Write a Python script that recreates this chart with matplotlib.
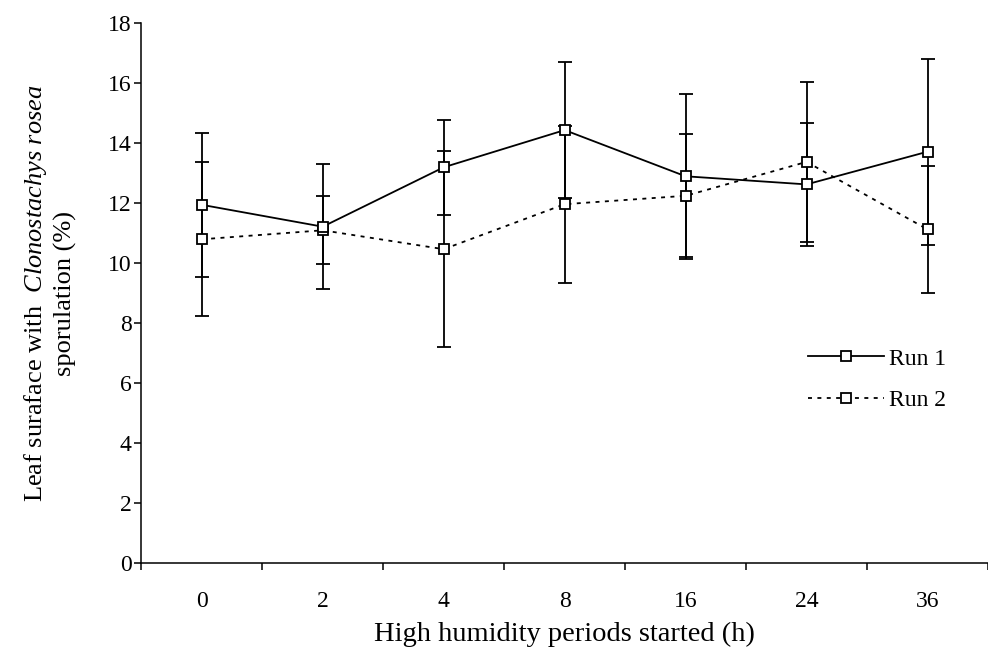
import matplotlib
matplotlib.use("Agg")
import matplotlib.pyplot as plt
import numpy as np

plt.rcParams["font.family"] = ["Liberation Serif", "DejaVu Serif"]
plt.rcParams["mathtext.fontset"] = "custom"
plt.rcParams["mathtext.rm"] = "Liberation Serif"
plt.rcParams["mathtext.it"] = "Liberation Serif:italic"

hours = ["0", "2", "4", "8", "16", "24", "36"]
run1 = [11.95, 11.22, 13.2, 14.44, 12.9, 12.63, 13.72]
run1_err = [2.4, 2.08, 1.59, 2.28, 2.75, 2.04, 3.1]
run2 = [10.8, 11.1, 10.47, 11.97, 12.25, 13.38, 11.13]
run2_err = [2.57, 1.14, 3.27, 2.62, 2.05, 2.66, 2.12]

fig = plt.figure(figsize=(9.88, 6.56), dpi=100)
ax = fig.add_axes([0.1430, 0.1413, 0.857, 0.8232])

x = np.arange(len(hours))
ekw = dict(fmt="none", ecolor="black", elinewidth=1.3, capsize=5, capthick=1.3)
ax.errorbar(x, run1, yerr=run1_err, **ekw)
ax.errorbar(x, run2, yerr=run2_err, **ekw)

mkw = dict(marker="s", markersize=7.5, markerfacecolor="white",
           markeredgecolor="black", markeredgewidth=1.3, color="black", lw=1.3)
ax.plot(x, run2, ls=(0, (2.2, 3)), label="Run 2", zorder=3, **mkw)
ax.plot(x, run1, ls="-", label="Run 1", zorder=4, **mkw)

ax.set_xlim(-0.5, 6.48)
ax.set_ylim(0, 18)
ax.set_yticks(np.arange(0, 19, 2))
ax.set_xticks(np.arange(-0.5, 7, 1))
ax.set_xticklabels([])
ax.set_xticks(x, minor=True)
ax.set_xticklabels(hours, minor=True)
ax.tick_params(axis="x", which="major", direction="out", length=5, width=1.1)
ax.tick_params(axis="x", which="minor", length=0, pad=20, labelsize=17)
ax.tick_params(axis="y", direction="out", length=5, width=1.1, pad=2, labelsize=17)
for side in ("top", "right"):
    ax.spines[side].set_visible(False)
for side in ("left", "bottom"):
    ax.spines[side].set_linewidth(1.1)

ax.set_xlabel("High humidity periods started (h)", fontsize=20.5, labelpad=7)
ax.set_ylabel("Leaf suraface with  $\\it{Clonostachys\\ rosea}$\nsporulation (%)",
              fontsize=19, labelpad=22, linespacing=1.3)

h, l = ax.get_legend_handles_labels()
ax.legend(h[::-1], l[::-1], loc="upper left", bbox_to_anchor=(808 / 988, 1 - 348 / 656),
          bbox_transform=fig.transFigure, frameon=False, fontsize=17,
          handlelength=3.2, handletextpad=0.25, labelspacing=0.85,
          borderpad=0, borderaxespad=0, numpoints=1)

fig.savefig("out.png", dpi=100)
